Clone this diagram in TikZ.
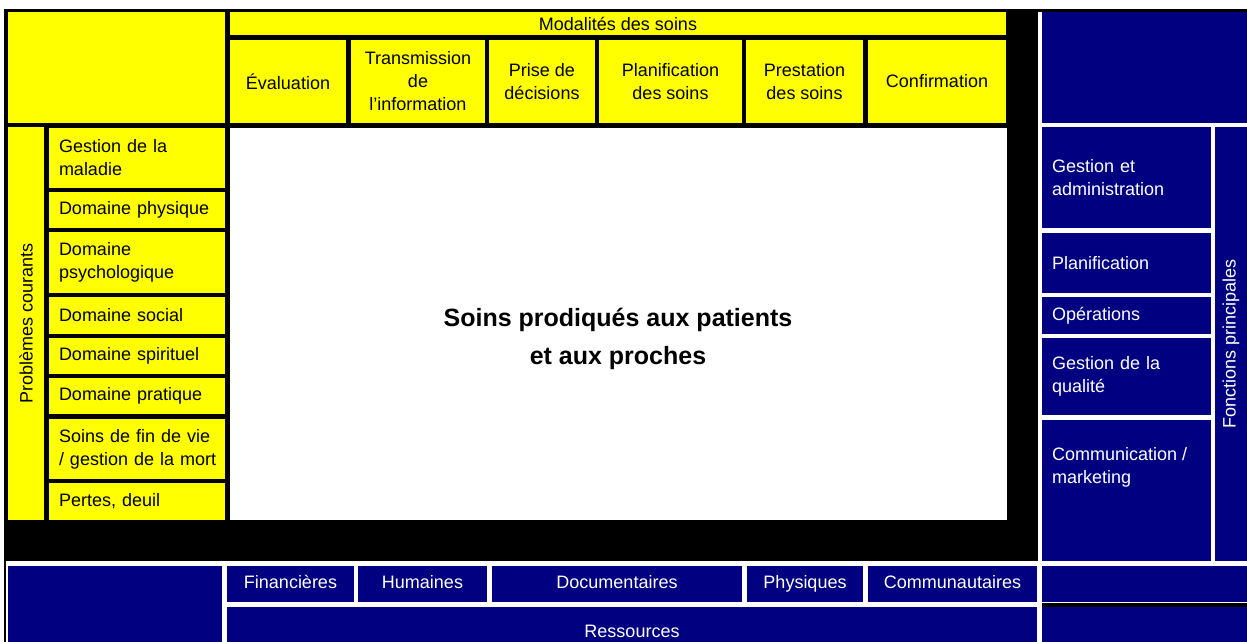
\documentclass[tikz,border=0pt]{standalone}
\usepackage{fontspec}
\setmainfont{Liberation Sans}
\definecolor{navy}{RGB}{0,0,128}
\definecolor{jaune}{RGB}{255,255,0}

\begin{document}
\begin{tikzpicture}[x=1pt,y=-1pt,
  every node/.style={font=\fontsize{18}{23}\selectfont,inner sep=0pt},
  jbox/.style={fill=jaune,text=black,align=center},
  nbox/.style={fill=navy,text=white,align=center},
  pbox/.style={jbox,minimum width=176pt,text width=156pt,align=left},
  fbox/.style={nbox,minimum width=169pt,text width=149pt,align=left},
  rbox/.style={nbox,minimum height=36pt,text height=13pt,text depth=4pt}]
          \useasboundingbox (0,0) rectangle (1247,642);
          \fill[white] (0,0) rectangle (1247,642);
          \fill[black] (4,9) rectangle (1038,561);
          \fill[black] (4,9) rectangle (1247,12);
          \fill[black] (4,561) rectangle (6,642);
          \fill[black] (1042,603) rectangle (1247,607);

          \node[jbox,minimum width=217pt,minimum height=111pt] (coin) at (116.5,67.5) {};
          \node[jbox,minimum width=776pt,minimum height=23pt] (modal) at (618,23.5) {Modalités des soins};
          \node[jbox,minimum width=116pt,minimum height=83pt] (eval) at (288,81.5) {Évaluation};
          \node[jbox,minimum width=134pt,minimum height=83pt] (trans) at (418,81.5) {Transmission\\de\\l’information};
          \node[jbox,minimum width=106pt,minimum height=83pt] (prise) at (542,81.5) {Prise de\\décisions};
          \node[jbox,minimum width=143pt,minimum height=83pt] (plansoins) at (670.5,81.5) {Planification\\des soins};
          \node[jbox,minimum width=117pt,minimum height=83pt] (prest) at (804.5,81.5) {Prestation\\des soins};
          \node[jbox,minimum width=138pt,minimum height=83pt] (confirm) at (937,81.5) {Confirmation};

          \node[jbox,rotate=90,minimum width=393pt,minimum height=36pt] (probl) at (26,323.5) {Problèmes courants};
          \node[pbox,minimum height=60pt] (maladie) at (137,158) {Gestion de la\\maladie};
          \node[pbox,minimum height=36pt] (physique) at (137,210) {Domaine physique};
          \node[pbox,minimum height=61pt] (psycho) at (137,262.5) {Domaine\\psychologique};
          \node[pbox,minimum height=37pt] (social) at (137,315.5) {Domaine social};
          \node[pbox,minimum height=36pt] (spirit) at (137,356) {Domaine spirituel};
          \node[pbox,minimum height=36pt] (pratique) at (137,396) {Domaine pratique};
          \node[pbox,minimum height=60pt] (finvie) at (137,449) {Soins de fin de vie\\\mbox{/ gestion de la mort}};
          \node[pbox,minimum height=37pt] (deuil) at (137,501.5) {Pertes, deuil};

          \node[fill=white,minimum width=777pt,minimum height=392pt] (centre) at (618.5,324) {};
          \node[font=\fontsize{25}{38}\selectfont\bfseries,align=center] (soins) at (618,339) {Soins prodiqués aux patients\\et aux proches};

          \node[nbox,minimum width=205pt,minimum height=111pt] (haut) at (1144.5,67.5) {};
          \node[fbox,minimum height=101pt] (gestadm) at (1126.5,177.5) {Gestion et\\administration};
          \node[fbox,minimum height=60pt] (planif) at (1126.5,263) {Planification};
          \node[fbox,minimum height=37pt] (oper) at (1126.5,315.5) {Opérations};
          \node[fbox,minimum height=77pt] (qualite) at (1126.5,376.5) {Gestion de la\\qualité};
          \node[fbox,minimum height=141pt] (comm) at (1126.5,490.5) {};
          \node[text=white,align=left,anchor=west] (commtxt) at (1052,467) {Communication /\\marketing};
          \node[nbox,rotate=90,minimum width=434pt,minimum height=32pt] (fonct) at (1231,344) {Fonctions principales};

          \node[nbox,minimum width=214pt,minimum height=89pt] (basg) at (115,610.5) {};
          \node[rbox,minimum width=127pt] (financ) at (290.5,584) {Financières};
          \node[rbox,minimum width=129pt] (humain) at (422.5,584) {Humaines};
          \node[rbox,minimum width=250pt] (docu) at (617,584) {Documentaires};
          \node[rbox,minimum width=116pt] (physiq) at (805,584) {Physiques};
          \node[rbox,minimum width=169pt] (commun) at (952.5,584) {Communautaires};
          \node[nbox,minimum width=810pt,minimum height=48pt] (ressour) at (632,631) {Ressources};
          \node[nbox,minimum width=205pt,minimum height=36pt] (basd) at (1144.5,584) {};
          \node[nbox,minimum width=205pt,minimum height=48pt] (basdd) at (1144.5,631) {};
        \end{tikzpicture}
\end{document}
